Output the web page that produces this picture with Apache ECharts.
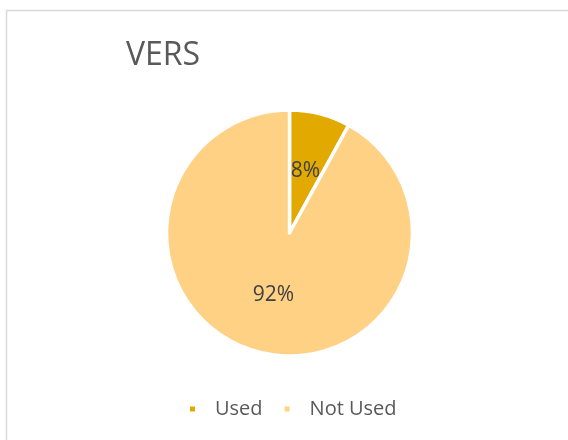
<!DOCTYPE html>
<html lang="en">
<head>
  <meta charset="UTF-8">
  <title>VERS</title>
  <style>
    html, body { margin: 0; padding: 0; overflow: hidden; background: #fff; }
    #chart { width: 568px; height: 440px; }
  </style>
</head>
<body>
  <div id="chart"></div>
  <script src="https://cdn.jsdelivr.net/npm/echarts@6/dist/echarts.min.js"></script>
  <script>
    // data
    var categories = ['Used', 'Not Used'];
    var values = [8, 92];
    var colors = ['#E2AA00', '#FED185'];

    const myChart = echarts.init(document.querySelector('#chart'));

    var option = {
      animation: false,
      textStyle: { fontFamily: 'Open Sans' },
      graphic: [{
        type: 'rect',
        shape: { x: 6.5, y: 10.5, width: 600, height: 500 },
        style: { fill: 'none', stroke: '#D9D9D9', lineWidth: 1.5 },
        silent: true
      }],
      title: {
        text: 'VERS',
        left: 121,
        top: 35,
        textStyle: { fontSize: 32, fontWeight: 'normal', color: '#595959', fontFamily: 'Open Sans' }
      },
      legend: {
        data: categories,
        bottom: 16,
        left: 183,
        icon: 'rect',
        itemWidth: 7,
        itemHeight: 7,
        itemGap: 20,
        textStyle: { fontSize: 20, color: '#595959', padding: [0, 0, 0, 14] }
      },
      series: [{
        type: 'pie',
        center: [289.5, 233],
        radius: 123,
        startAngle: 90,
        clockwise: true,
        itemStyle: { borderColor: '#fff', borderWidth: 3.5 },
        label: {
          show: true,
          position: 'inside',
          formatter: '{c}%',
          fontSize: 21,
          color: '#404040'
        },
        labelLine: { show: false },
        emphasis: { disabled: true },
        data: categories.map(function (name, i) {
          return { name: name, value: values[i], itemStyle: { color: colors[i] } };
        })
      }]
    };
    myChart.setOption(option);
  </script>
</body>
</html>
